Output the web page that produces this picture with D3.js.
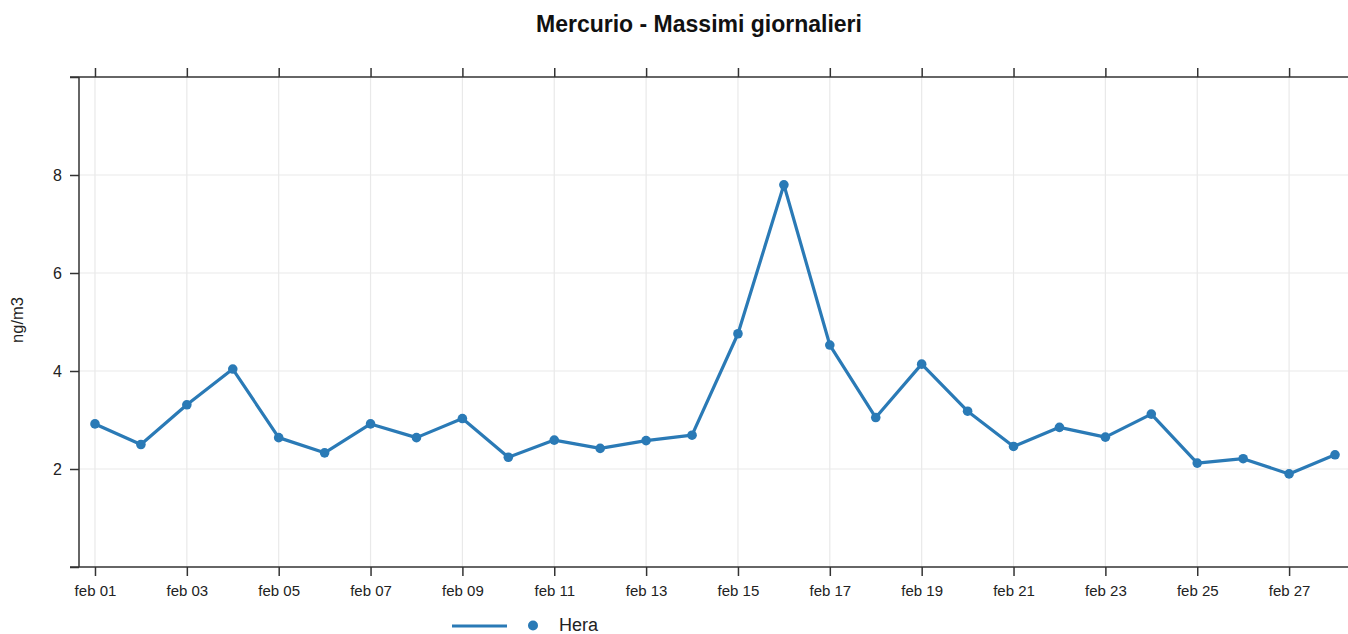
<!DOCTYPE html>
<html>
<head>
<meta charset="utf-8">
<script src="https://cdn.jsdelivr.net/npm/d3@7"></script>
<style>
  html, body { margin: 0; padding: 0; background: #fff; }
  svg { display: block; font-family: "Liberation Sans", Arial, Helvetica, sans-serif; }
</style>
</head>
<body>
<svg id="chart" width="1348" height="634"></svg>
<script>
const title = "Mercurio - Massimi giornalieri";
const yLabel = "ng/m3";
const seriesName = "Hera";
const dates = ["2023-02-01","2023-02-02","2023-02-03","2023-02-04","2023-02-05","2023-02-06","2023-02-07",
  "2023-02-08","2023-02-09","2023-02-10","2023-02-11","2023-02-12","2023-02-13","2023-02-14",
  "2023-02-15","2023-02-16","2023-02-17","2023-02-18","2023-02-19","2023-02-20","2023-02-21",
  "2023-02-22","2023-02-23","2023-02-24","2023-02-25","2023-02-26","2023-02-27","2023-02-28"];
const values = [2.92, 2.50, 3.31, 4.04, 2.64, 2.33, 2.92, 2.64, 3.03, 2.24, 2.59, 2.42, 2.58, 2.69,
  4.76, 7.80, 4.53, 3.05, 4.14, 3.18, 2.46, 2.85, 2.65, 3.12, 2.12, 2.21, 1.90, 2.29];
const xTickDates = ["2023-02-01","2023-02-03","2023-02-05","2023-02-07","2023-02-09","2023-02-11","2023-02-13",
  "2023-02-15","2023-02-17","2023-02-19","2023-02-21","2023-02-23","2023-02-25","2023-02-27"];
const yTicks = [0, 2, 4, 6, 8, 10];
const yTickLabels = ["", "2", "4", "6", "8", ""];

(function () {
const parse = d3.utcParse("%Y-%m-%d");
const data = dates.map((d, i) => ({ date: parse(d), value: values[i] }));
const fmt = d => d3.utcFormat("%b %d")(d).toLowerCase();

const svg = d3.select("#chart");
const mLeft = 79, mTop = 77, mBottom = 567, mRight = 1351;
const DAY = 86400000;
const first = data[0].date, last = data[data.length - 1].date;
const x = d3.scaleUtc()
  .domain([new Date(+first - 0.348 * DAY), new Date(+last + 0.348 * DAY)])
  .range([mLeft, mRight]);
const y = d3.scaleLinear().domain([0, 10]).range([mBottom, mTop]);
const color = "#2a7ab6";
const axisColor = "#333";

// grid
const xt = xTickDates.map(parse);
svg.append("g").selectAll("line").data(xt).join("line")
  .attr("x1", d => x(d)).attr("x2", d => x(d))
  .attr("y1", mTop).attr("y2", mBottom)
  .attr("stroke", "#e9e9e9").attr("stroke-width", 1.2);
svg.append("g").selectAll("line").data(yTicks.slice(1, -1)).join("line")
  .attr("x1", mLeft).attr("x2", 1348)
  .attr("y1", d => y(d)).attr("y2", d => y(d))
  .attr("stroke", "#e9e9e9").attr("stroke-width", 1.2);

// axes
const styleAxis = (g, size) => {
  g.select(".domain").remove();
  g.selectAll(".tick line").attr("stroke", axisColor).attr("stroke-width", 1.5);
  g.selectAll(".tick text").attr("fill", "#222").style("font-size", size + "px")
    .style("font-family", '"Liberation Sans", Arial, sans-serif');
};
const xBottom = svg.append("g").attr("transform", `translate(0,${mBottom})`)
  .call(d3.axisBottom(x).tickValues(xt).tickFormat(fmt).tickSize(9).tickPadding(9));
styleAxis(xBottom, 15);
const xTop = svg.append("g").attr("transform", `translate(0,${mTop})`)
  .call(d3.axisTop(x).tickValues(xt).tickFormat("").tickSize(9));
styleAxis(xTop, 15);
const yAxis = svg.append("g").attr("transform", `translate(${mLeft},0)`)
  .call(d3.axisLeft(y).tickValues(yTicks).tickFormat((d, i) => yTickLabels[i]).tickSize(9).tickPadding(8));
styleAxis(yAxis, 16);

// axis lines
svg.append("line").attr("x1", mLeft).attr("x2", mLeft).attr("y1", mTop).attr("y2", mBottom)
  .attr("stroke", axisColor).attr("stroke-width", 1.5);
svg.append("line").attr("x1", mLeft - 9).attr("x2", 1348).attr("y1", mTop).attr("y2", mTop)
  .attr("stroke", axisColor).attr("stroke-width", 1.5);
svg.append("line").attr("x1", mLeft - 9).attr("x2", 1348).attr("y1", mBottom).attr("y2", mBottom)
  .attr("stroke", axisColor).attr("stroke-width", 1.5);

// line + points
const line = d3.line().x(d => x(d.date)).y(d => y(d.value));
svg.append("path").datum(data).attr("d", line)
  .attr("fill", "none").attr("stroke", color).attr("stroke-width", 3.2)
  .attr("stroke-linejoin", "round");
svg.append("g").selectAll("circle").data(data).join("circle")
  .attr("cx", d => x(d.date)).attr("cy", d => y(d.value)).attr("r", 4.8)
  .attr("fill", color);

// title
svg.append("text").attr("x", 699).attr("y", 32).attr("text-anchor", "middle")
  .style("font-size", "23px").style("font-weight", "bold").attr("fill", "#111").text(title);

// y label
svg.append("text").attr("transform", `translate(23,320) rotate(-90)`)
  .attr("text-anchor", "middle").style("font-size", "16.5px").attr("fill", "#222").text(yLabel);

// legend
const lg = svg.append("g");
lg.append("line").attr("x1", 452).attr("x2", 507).attr("y1", 626).attr("y2", 626)
  .attr("stroke", color).attr("stroke-width", 3.2);
lg.append("circle").attr("cx", 533).attr("cy", 625.5).attr("r", 5).attr("fill", color);
lg.append("text").attr("x", 559).attr("y", 631).style("font-size", "18px").attr("fill", "#222").text(seriesName);
})();
</script>
</body>
</html>
